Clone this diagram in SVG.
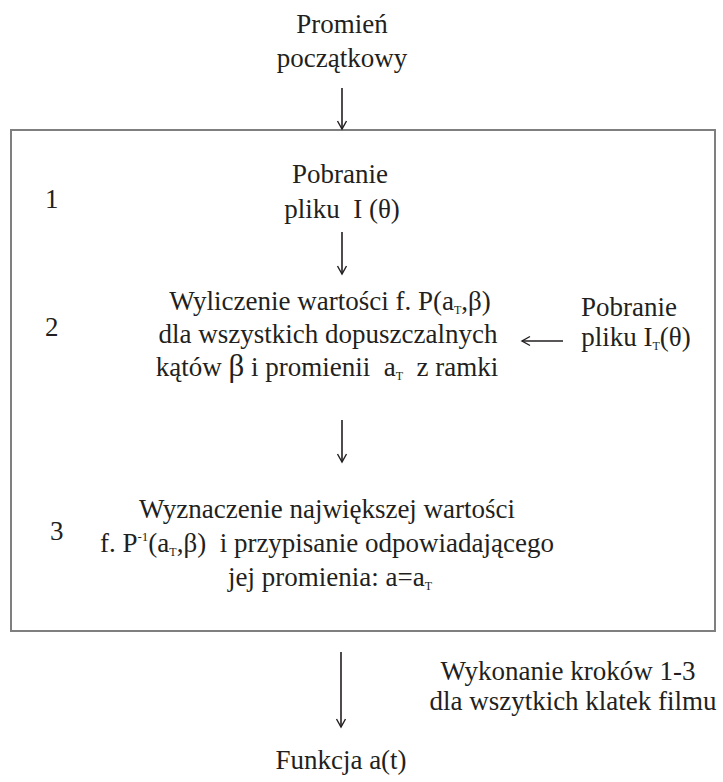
<svg xmlns="http://www.w3.org/2000/svg" width="723" height="782" viewBox="0 0 723 782">
<defs>
<marker id="ah" viewBox="0 0 12 12" refX="10" refY="6" markerWidth="12" markerHeight="12" markerUnits="userSpaceOnUse" orient="auto">
<path d="M2,1.5 L10,6 L2,10.5" fill="none" stroke="#231f20" stroke-width="1.4"/>
</marker>
<style>
text{font-family:"Times New Roman","Liberation Serif",Tinos,serif;font-size:27px;fill:#231f20;white-space:pre}
.c{text-anchor:middle}
.sub{font-size:12px}
.sup{font-size:13px}
.conn line{stroke:#231f20;stroke-width:1.6;marker-end:url(#ah)}
</style>
</defs>
<rect width="723" height="782" fill="#fff"/>
<g id="frame"><rect x="11" y="130" width="704" height="501" fill="none" stroke="#7f7f7f" stroke-width="2"/></g>
<g xml:space="preserve">
<g id="start"><text class="c" x="342" y="33">Promień</text><text class="c" x="342" y="67">początkowy</text></g>
<g id="step1">
<text x="45" y="208">1</text>
<text class="c" x="340" y="183">Pobranie</text>
<text class="c" x="342" y="218">pliku  I (θ)</text>
</g>
<g id="step2">
<text x="45" y="336">2</text>
<text class="c" x="330" y="310">Wyliczenie wartości f. P(a<tspan class="sub" dy="4">T</tspan><tspan dy="-4">,β)</tspan></text>
<text class="c" x="328" y="343">dla wszystkich dopuszczalnych</text>
<text class="c" x="327" y="376">kątów <tspan font-size="31">β</tspan> i promienii  a<tspan class="sub" dy="4">T</tspan><tspan dy="-4">  z ramki</tspan></text>
</g>
<g id="input">
<text class="c" x="629" y="316">Pobranie</text>
<text class="c" x="636" y="346">pliku I<tspan class="sub" dy="4">T</tspan><tspan dy="-4">(θ)</tspan></text>
</g>
<g id="step3">
<text x="50" y="540">3</text>
<text class="c" x="327" y="518">Wyznaczenie największej wartości</text>
<text class="c" x="327" y="552">f. P<tspan class="sup" dy="-11">-1</tspan><tspan dy="11">(a</tspan><tspan class="sub" dy="4">T</tspan><tspan dy="-4">,β)  i przypisanie odpowiadającego</tspan></text>
<text class="c" x="330" y="586">jej promienia: a=a<tspan class="sub" dy="4">T</tspan></text>
</g>
<g id="repeat">
<text class="c" x="568" y="680">Wykonanie kroków 1-3</text>
<text class="c" x="573" y="710">dla wszytkich klatek filmu</text>
</g>
<g id="result"><text class="c" x="341" y="769">Funkcja a(t)</text></g>
</g>
<g class="conn" id="connectors">
<line x1="342" y1="88" x2="342" y2="129"/>
<line x1="342" y1="232" x2="342" y2="274"/>
<line x1="342" y1="420" x2="342" y2="462"/>
<line x1="563" y1="341" x2="522" y2="341"/>
<line x1="341" y1="652" x2="341" y2="727"/>
</g>
</svg>
